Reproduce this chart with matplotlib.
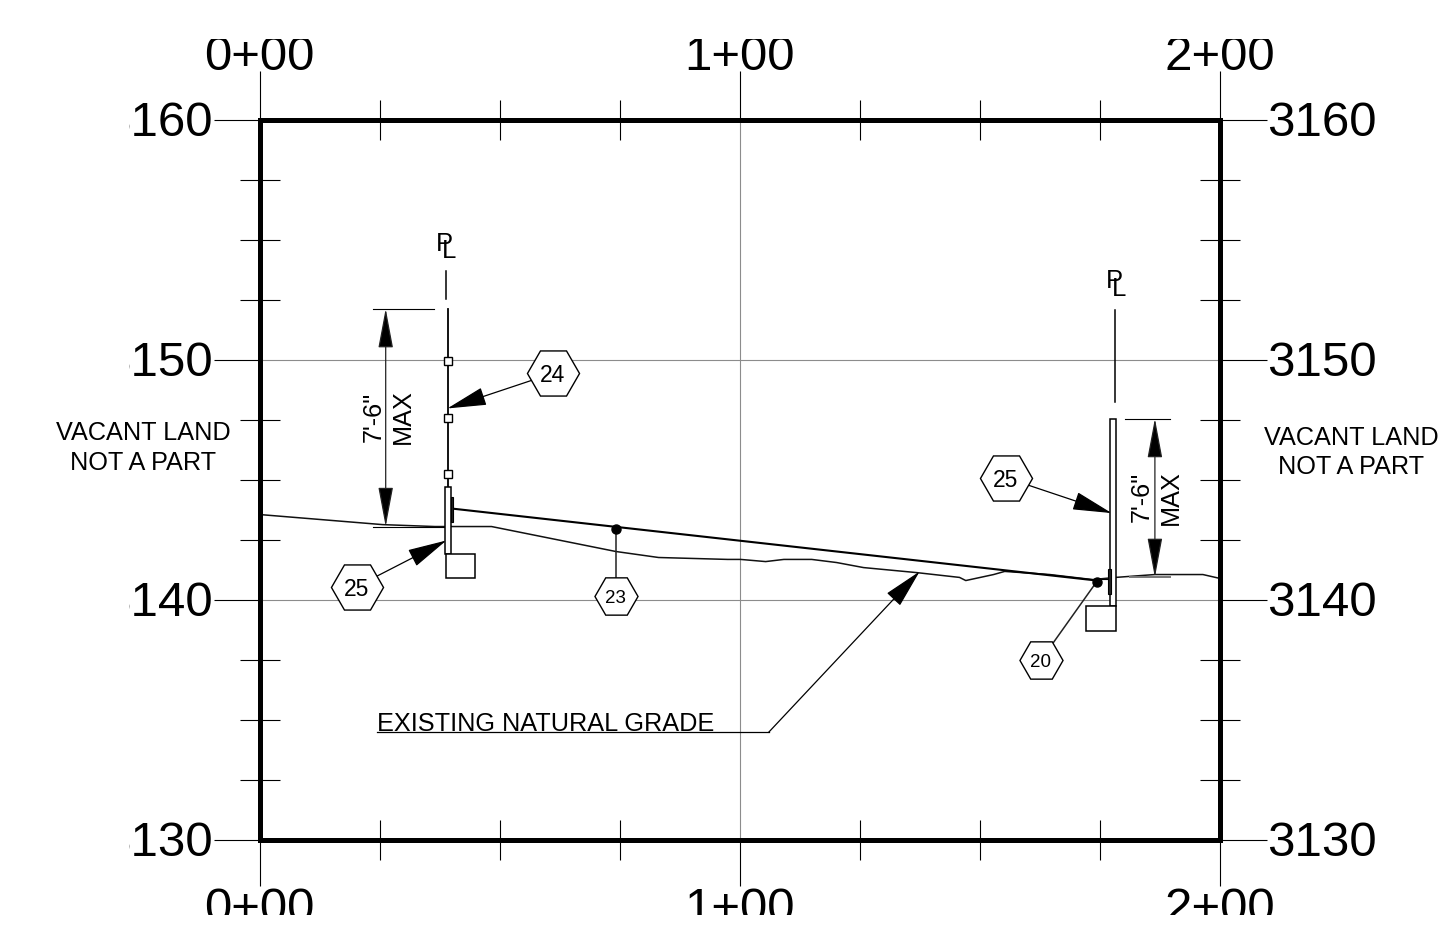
import matplotlib
matplotlib.use("Agg")
import matplotlib.pyplot as plt
from matplotlib.patches import Rectangle
from matplotlib.transforms import Bbox, Affine2D

plt.rcParams['font.family'] = ['Liberation Sans', 'DejaVu Sans']

############ values (station ft, elevation ft) ############

x_major = [0, 100, 200]
x_minor = [25, 50, 75, 125, 150, 175]
x_labels = ['0+00', '1+00', '2+00']
y_major = [3130, 3140, 3150, 3160]
y_minor = [3132.5, 3135, 3137.5, 3142.5, 3145, 3147.5, 3152.5, 3155, 3157.5]
y_labels = ['3130', '3140', '3150', '3160']

grade_x = [0, 25.6, 36.5, 48.3, 74.2, 83.1, 97.5, 100.2, 105.4, 109.2, 115, 120.2,
           125.8, 136.9, 145.8, 147.1, 152.9, 155.2, 164.6, 173.5, 178.3, 186.5, 196.5, 200]
grade_y = [3143.54, 3143.12, 3143.04, 3143.04, 3142.0, 3141.75, 3141.67, 3141.67, 3141.58,
           3141.67, 3141.67, 3141.54, 3141.33, 3141.12, 3140.92, 3140.79, 3141.04, 3141.17,
           3141.04, 3140.83, 3140.92, 3141.04, 3141.04, 3140.88]

swale_x = [40, 174.4]
swale_y = [3143.79, 3140.79]

post_x = [39.17, 39.17, 39.17]
post_y = [3149.92, 3147.58, 3145.25]

dot_x = [74.2, 174.4]
dot_y = [3142.92, 3140.75]

# x0, x1, y0, y1
wall_left = [38.7, 39.8, 3141.88, 3144.67]
footing_left = [38.75, 44.8, 3140.88, 3141.88]
bar_left = [39.8, 40.2, 3143.25, 3144.29]
wall_right = [177.1, 178.3, 3139.71, 3147.54]
footing_right = [172.1, 178.3, 3138.67, 3139.71]
bar_right = [176.7, 177.3, 3140.25, 3141.29]

# label, x, y, tip x, tip y, has arrow head, big
callouts = [
    ('24', 61.0, 3149.42, 39.1, 3147.96, True, True),
    ('25', 20.2, 3140.54, 38.9, 3142.46, True, True),
    ('25', 155.4, 3145.08, 177.5, 3143.6, True, True),
    ('23', 74.2, 3140.13, 74.2, 3142.92, False, False),
    ('20', 162.7, 3137.46, 174.4, 3140.75, False, False),
]

def box(ax, r, **kw):
    ax.add_patch(Rectangle((r[0], r[2]), r[1] - r[0], r[3] - r[2], **kw))

def main():
    fig = plt.figure(figsize=(14.51, 9.52), dpi=100)
    ax = fig.add_axes([259.7 / 1451, 112.5 / 952, 960 / 1451, 720 / 952])
    ax.set_xlim(0, 200)
    ax.set_ylim(3130, 3160)

    ax_top = ax.twiny()
    ax_top.set_xlim(0, 200)
    ax_right = ax.twinx()
    ax_right.set_ylim(3130, 3160)

    ########## ticks and labels ##########
    clip = Bbox.from_extents(129, 952 - 915, 1451, 952 - 39)

    ax.set_xticks(x_major, x_labels)
    ax.set_xticks(x_minor, minor=True)
    ax.set_yticks(y_major, y_labels)
    ax.set_yticks(y_minor, minor=True)
    ax_top.set_xticks(x_major, x_labels)
    ax_top.set_xticks(x_minor, minor=True)
    ax_right.set_yticks(y_major, y_labels)
    ax_right.set_yticks(y_minor, minor=True)

    for a, side, length, pad in [(ax, 'x', 33, 1), (ax, 'y', 33, 1), (ax_top, 'x', 35, -6.5), (ax_right, 'y', 34, 0)]:
        a.tick_params(axis=side, which='major', length=length, width=0.8, labelsize=35.5, pad=pad)
        a.tick_params(axis=side, which='minor', direction='inout', length=28.8, width=0.8)

    for a in (ax, ax_top, ax_right):
        for lab in a.get_xticklabels() + a.get_yticklabels():
            lab.set_clip_box(clip)
            lab.set_clip_on(True)
        for s in a.spines.values():
            s.set_linewidth(3.6)
    for lab in ax.get_yticklabels() + ax_right.get_yticklabels():
        lab.set_transform(lab.get_transform() + Affine2D().translate(0, 1))

    ax.grid(True, which='major', color='#8c8c8c', linewidth=0.8)
    ax.set_axisbelow(True)

    ########## ground and walls ##########
    ax.plot(grade_x, grade_y, color='#111111', lw=1.1, zorder=3)
    ax.plot(swale_x, swale_y, color='black', lw=1.5, zorder=3)

    ax.plot([39.17, 39.17], [3144.67, 3152.12], color='black', lw=1.3, zorder=3)
    ax.plot([38.75, 38.75], [3152.54, 3153.67], color='black', lw=1.1, zorder=3)
    ax.plot([178.1, 178.1], [3148.21, 3152.08], color='black', lw=1.1, zorder=3)
    ax.plot(post_x, post_y, ls='none', marker='s', ms=5.5, mfc='white', mec='black', mew=1.0, zorder=4)

    for r in (wall_left, footing_left, wall_right, footing_right):
        box(ax, r, fc='white', ec='black', lw=1.1, zorder=4)
    for r in (bar_left, bar_right):
        box(ax, r, fc='#222222', ec='black', lw=0.8, zorder=5)

    ax.plot([174.4, 176.7], [3140.85, 3140.85], color='black', lw=0.8, zorder=3)
    ax.plot(dot_x, dot_y, ls='none', marker='o', ms=6.5, color='black', zorder=6)

    ########## dimensions ##########
    head = '<|-|>,head_length=25,head_width=4.7'
    for x, y0, y1 in [(26.25, 3143.04, 3152.12), (186.5, 3140.92, 3147.54)]:
        ax.annotate('', xy=(x, y0), xytext=(x, y1),
                    arrowprops=dict(arrowstyle=head, mutation_scale=1, shrinkA=0, shrinkB=0,
                                    fc='black', ec='#222222', lw=0.9), zorder=5)
    ax.plot([23.5, 36.25], [3152.12, 3152.12], color='black', lw=0.8, zorder=3)
    ax.plot([23.5, 38.5], [3143.04, 3143.04], color='black', lw=0.8, zorder=3)
    ax.plot([180.2, 189.6], [3147.54, 3147.54], color='black', lw=0.8, zorder=3)
    ax.plot([181.25, 189.6], [3140.92, 3140.92], color='#777777', lw=1.4, zorder=3)

    rot = dict(rotation=90, ha='center', va='center', fontsize=18.2, zorder=7)
    ax.text(23.7, 3147.62, '7\'-6"', **rot)
    ax.text(29.8, 3147.62, 'MAX', **rot)
    ax.text(183.7, 3144.27, '7\'-6"', **rot)
    ax.text(189.9, 3144.25, 'MAX', **rot)

    ########## callouts ##########
    arrow = '-|>,head_length=25,head_width=5.8'
    for label, x, y, tx, ty, has_head, big in callouts:
        if has_head:
            ax.annotate('', xy=(tx, ty), xytext=(x, y), zorder=5,
                        arrowprops=dict(arrowstyle=arrow, mutation_scale=1, shrinkA=0, shrinkB=0,
                                        fc='black', ec='black', lw=0.9))
        else:
            ax.plot([x, tx], [y, ty], color='#222222', lw=1.1, zorder=5)
        ax.plot([x], [y], ls='none', marker='H', ms=37.5 if big else 31, mfc='white',
                mec='black', mew=1.0, zorder=6)
        ax.text(x, y, label, ha='center', va='center_baseline', fontsize=16.5 if big else 13.5, zorder=7)

    ax.annotate('', xy=(137.5, 3141.17), xytext=(106.0, 3134.46), zorder=5,
                arrowprops=dict(arrowstyle=arrow, mutation_scale=1, shrinkA=0, shrinkB=0,
                                fc='black', ec='black', lw=0.9))
    ax.plot([24.4, 106.0], [3134.46, 3134.46], color='black', lw=0.9, zorder=5)
    ax.text(24.4, 3134.54, 'EXISTING NATURAL GRADE', ha='left', va='baseline', fontsize=18.2)

    ########## notes ##########
    ax.text(-24.2, 3146.92, 'VACANT LAND', ha='center', va='center', fontsize=18.2)
    ax.text(-24.4, 3145.67, 'NOT A PART', ha='center', va='center', fontsize=18.2)
    ax.text(227.5, 3146.73, 'VACANT LAND', ha='center', va='center', fontsize=18.2)
    ax.text(227.3, 3145.52, 'NOT A PART', ha='center', va='center', fontsize=18.2)

    for x, y, s in [(38.4, 3154.8, 'P'), (39.5, 3154.52, 'L'), (178.0, 3153.25, 'P'), (179.1, 3152.94, 'L')]:
        ax.text(x, y, s, ha='center', va='center', fontsize=18.5)

    fig.savefig('out.png', dpi=100)
    plt.close(fig)

if __name__ == "__main__":
    main()
